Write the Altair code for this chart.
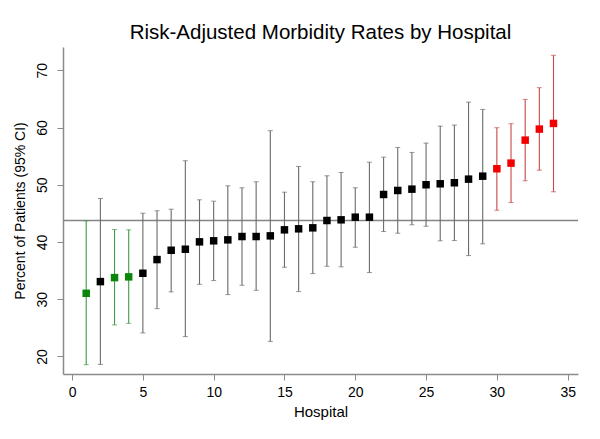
import altair as alt
import pandas as pd

hospital = list(range(1, 35))
rate = [31.03, 33.07, 33.77, 33.90, 34.53, 36.92, 38.55, 38.73, 40.02, 40.20,
        40.37, 40.95, 40.95, 41.07, 42.12, 42.30, 42.47, 43.75, 43.87, 44.33,
        44.33, 48.30, 49.00, 49.23, 50.00, 50.17, 50.35, 50.98, 51.50, 52.80,
        53.78, 57.80, 59.73, 60.72]
upper = [43.70, 47.60, 42.17, 42.12, 45.03, 45.45, 45.73, 54.20, 47.37, 47.13,
         49.82, 49.47, 50.52, 59.45, 48.70, 53.20, 50.52, 51.57, 52.15, 49.47,
         53.95, 54.83, 56.52, 55.65, 57.28, 60.25, 60.43, 64.45, 63.17, 59.97,
         60.67, 64.92, 66.97, 72.63]
lower = [18.55, 18.60, 25.50, 25.78, 24.10, 28.35, 31.27, 23.45, 32.60, 33.25,
         30.80, 32.43, 31.55, 22.62, 35.58, 31.32, 34.47, 35.75, 35.65, 39.08,
         34.65, 41.82, 41.53, 43.00, 42.75, 40.20, 40.25, 37.62, 39.67, 45.55,
         46.90, 50.70, 52.55, 48.77]
group = ["low", "avg", "low", "low"] + ["avg"] * 25 + ["high"] * 5
overall_rate = [43.75]

x_ticks = [0, 5, 10, 15, 20, 25, 30, 35]
y_ticks = [20, 30, 40, 50, 60, 70]

df = pd.DataFrame({"hospital": hospital, "rate": rate, "upper": upper,
                   "lower": lower, "group": group})
ref = pd.DataFrame({"ref": overall_rate})

xscale = alt.Scale(domain=[-0.64, 35.73], nice=False, zero=False)
yscale = alt.Scale(domain=[16.92, 74.08], nice=False, zero=False)

xenc = alt.X("hospital:Q", scale=xscale,
             axis=alt.Axis(values=x_ticks, title="Hospital", format="d",
                           titleFontSize=15, titlePadding=5))
yenc = alt.Y("rate:Q", scale=yscale,
             axis=alt.Axis(values=y_ticks, title="Percent of Patients (95% CI)",
                           labelAngle=270, labelAlign="center",
                           labelBaseline="bottom", labelPadding=8,
                           titleFontSize=14, titlePadding=8))

groups = ["low", "avg", "high"]
bar_col = alt.Color("group:N", legend=None,
                    scale=alt.Scale(domain=groups,
                                    range=["#3f9a45", "#6a6a6a", "#c84848"]))
pt_col = alt.Color("group:N", legend=None,
                   scale=alt.Scale(domain=groups,
                                   range=["#0a870a", "#000000", "#f20000"]))

refline = alt.Chart(ref).mark_rule(color="#858585", strokeWidth=1.5).encode(
    y=alt.Y("ref:Q", scale=yscale)
)

bars = alt.Chart(df).mark_rule(strokeWidth=1.1).encode(
    x=xenc,
    y=alt.Y("lower:Q", scale=yscale),
    y2="upper:Q",
    color=bar_col,
)
cap_lo = alt.Chart(df).mark_tick(orient="horizontal", size=5, thickness=1).encode(
    x=alt.X("hospital:Q", scale=xscale),
    y=alt.Y("lower:Q", scale=yscale),
    color=bar_col,
)
cap_hi = alt.Chart(df).mark_tick(orient="horizontal", size=5, thickness=1).encode(
    x=alt.X("hospital:Q", scale=xscale),
    y=alt.Y("upper:Q", scale=yscale),
    color=bar_col,
)
points = alt.Chart(df).mark_square(size=56, opacity=1).encode(
    x=xenc,
    y=yenc,
    color=pt_col,
)

errs = alt.layer(bars, cap_lo, cap_hi)
chart = alt.layer(refline, errs, points).resolve_scale(color="independent").properties(
    width=515,
    height=327,
    autosize=alt.AutoSizeParams(type="none"),
    padding={"left": 55, "top": 39, "right": 14, "bottom": 57},
    title=alt.Title("Risk-Adjusted Morbidity Rates by Hospital",
                    fontSize=20.5, font="Liberation Sans", fontWeight="normal",
                    color="black", anchor="middle", frame="group", offset=4),
).configure_view(stroke=None).configure_axis(
    grid=False,
    domainColor="#8a8a8a",
    domainWidth=1.5,
    tickColor="#8a8a8a",
    tickSize=6,
    labelFont="Liberation Sans",
    labelFontSize=14,
    labelColor="black",
    labelPadding=5,
    titleFont="Liberation Sans",
    titleFontWeight="normal",
    titleColor="black",
)

chart.save("out.html", embed_options={"renderer": "svg", "actions": False})
